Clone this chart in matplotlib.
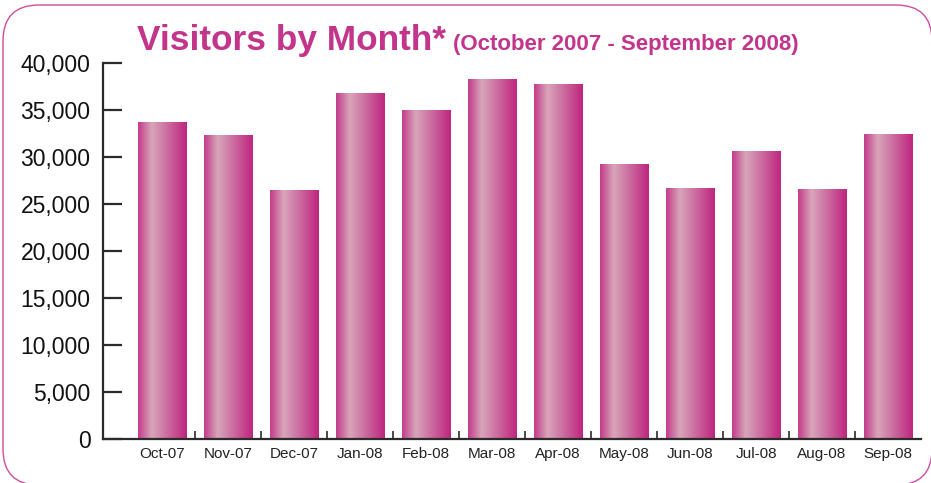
import numpy as np
import matplotlib
matplotlib.use("Agg")
import matplotlib.pyplot as plt
from matplotlib.colors import LinearSegmentedColormap
from matplotlib.patches import FancyBboxPatch
from matplotlib.transforms import IdentityTransform
from matplotlib.ticker import FuncFormatter, MultipleLocator

# DATA
MONTHS = ["Oct-07", "Nov-07", "Dec-07", "Jan-08", "Feb-08", "Mar-08",
          "Apr-08", "May-08", "Jun-08", "Jul-08", "Aug-08", "Sep-08"]
VISITORS = [33700, 32300, 26500, 36800, 35000, 38300,
            37800, 29200, 26700, 30600, 26600, 32400]

TITLE = "Visitors by Month*"
SUBTITLE = "(October 2007 - September 2008)"

MAGENTA = "#C2358A"
AXIS_COLOR = "#2b2b2b"

plt.rcParams["font.family"] = ["Liberation Sans", "DejaVu Sans"]

fig = plt.figure(figsize=(9.31, 4.83), dpi=100)
ax = fig.add_axes([103 / 931, 1 - 439 / 483, 818 / 931, (439 - 63.5) / 483])

x = np.arange(len(MONTHS))
bars = ax.bar(x, VISITORS, width=0.74, color="none", edgecolor="none")

# horizontal gradient inside each bar
cmap = LinearSegmentedColormap.from_list(
    "barshade",
    [(0.0, "#C43A8B"), (0.28, "#D8A6B9"), (0.6, "#CC6CA0"), (1.0, "#BF257E")],
)
grad = np.linspace(0, 1, 256).reshape(1, -1)
for b in bars:
    x0, w, h = b.get_x(), b.get_width(), b.get_height()
    ax.imshow(grad, cmap=cmap, extent=(x0, x0 + w, 0, h),
              aspect="auto", interpolation="bicubic", zorder=2)

ax.set_xlim(-0.9, len(MONTHS) - 0.5)
ax.set_ylim(0, 40000)

for side in ("top", "right"):
    ax.spines[side].set_visible(False)
for side in ("left", "bottom"):
    ax.spines[side].set_color(AXIS_COLOR)
    ax.spines[side].set_linewidth(1.6)

ax.yaxis.set_major_locator(MultipleLocator(5000))
ax.yaxis.set_major_formatter(FuncFormatter(lambda v, p: f"{int(v):,}"))
ax.tick_params(axis="y", direction="in", length=14, width=1.6,
               color=AXIS_COLOR, labelsize=16.5, pad=9, labelcolor="#111111")

ax.set_xticks(x)
ax.set_xticklabels(MONTHS)
ax.set_xticks(x[:-1] + 0.5, minor=True)
ax.tick_params(axis="x", which="major", length=0, labelsize=11, pad=6,
               labelcolor="#222222")
ax.tick_params(axis="x", which="minor", direction="in", length=6, width=1.2,
               color=AXIS_COLOR)

# title
fig.text(137 / 931, 1 - 50 / 483, TITLE, fontsize=25.4, fontweight="bold",
         color=MAGENTA, va="baseline", ha="left")
fig.text(453 / 931, 1 - 50 / 483, SUBTITLE, fontsize=16, fontweight="bold",
         color=MAGENTA, va="baseline", ha="left")

# rounded frame around the chart
frame = FancyBboxPatch((3, -2), 929, 480,
                       boxstyle="round,pad=0,rounding_size=36",
                       transform=IdentityTransform(), fill=False,
                       edgecolor="#D24C9E", linewidth=1.0)
fig.patches.append(frame)

fig.savefig("out.png", dpi=100)
